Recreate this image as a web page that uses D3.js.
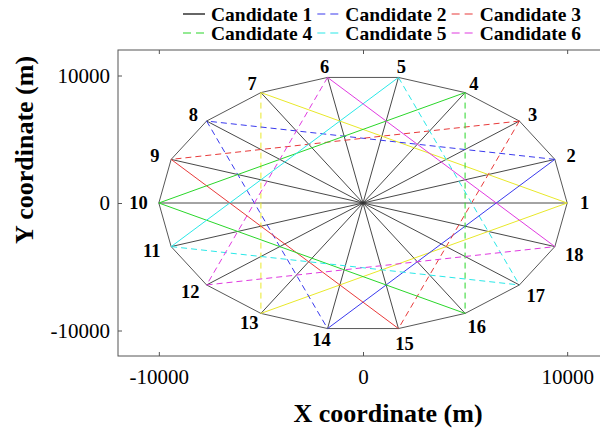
<!DOCTYPE html>
<html>
<head>
  <meta charset="utf-8">
  <title>Candidate node triangles</title>
  <script src="https://cdnjs.cloudflare.com/ajax/libs/d3/7.8.5/d3.min.js"></script>
  <style>
    body { margin: 0; background: #fff; }
    text { font-family: "Liberation Serif", "Times New Roman", serif; }
  </style>
</head>
<body>
  <script>
    // node coordinates (m), nodes 1..18 going counter-clockwise from the +x axis
    const nodeX = [10000, 9397, 7660, 5000, 1736, -1736, -5000, -7660, -9397,
                   -10000, -9397, -7660, -5000, -1736, 1736, 5000, 7660, 9397];
    const nodeY = [0, 3420, 6428, 8660, 9848, 9848, 8660, 6428, 3420,
                   0, -3420, -6428, -8660, -9848, -9848, -8660, -6428, -3420];

    // candidate triangles (node numbers) and which of their edges are dashed
    const triangleNodes = [[1, 7, 13], [2, 8, 14], [3, 9, 15], [4, 10, 16], [5, 11, 17], [6, 12, 18]];
    const triangleColors = ["#e8e82a", "#3a3aee", "#e83a3a", "#2ad62a", "#2ae8e8", "#e03ae0"];
    const dashedEdges = [["7-13"], ["2-8", "8-14"], ["3-9", "3-15"], ["4-16"], ["11-17", "5-17"], ["6-12", "12-18"]];

    const legendLabels = ["Candidate 1", "Candidate 2", "Candidate 3", "Candidate 4", "Candidate 5", "Candidate 6"];
    const legendColors = ["#000000", "#3a3aee", "#e83a3a", "#2ad62a", "#2ae8e8", "#e03ae0"];
    const legendDashed = [false, true, true, true, true, true];

    const xTicks = [-10000, 0, 10000];
    const yTicks = [-10000, 0, 10000];

    const width = 600, height = 434;
    const plotLeft = 118, plotRight = 608, plotTop = 50, plotBottom = 356;

    const svg = d3.select("body")
      .append("svg")
      .attr("width", width)
      .attr("height", height);

    const x = d3.scaleLinear().domain([-12000, 12000]).range([plotLeft, plotRight]);
    const y = d3.scaleLinear().domain([-12000, 12000]).range([plotBottom, plotTop]);

    const nodes = nodeX.map((v, i) => ({ id: i + 1, x: v, y: nodeY[i] }));

    // spokes from the centre
    svg.append("g").selectAll("line")
      .data(nodes)
      .enter()
      .append("line")
      .attr("x1", x(0)).attr("y1", y(0))
      .attr("x2", d => x(d.x)).attr("y2", d => y(d.y))
      .attr("stroke", "#333").attr("stroke-width", 0.9);

    // outer polygon
    svg.append("path")
      .datum(nodes)
      .attr("d", d3.line().x(d => x(d.x)).y(d => y(d.y)).curve(d3.curveLinearClosed))
      .attr("fill", "none")
      .attr("stroke", "#444").attr("stroke-width", 0.9);

    // triangle edges
    const edges = [];
    triangleNodes.forEach((tri, t) => {
      [[tri[0], tri[1]], [tri[1], tri[2]], [tri[0], tri[2]]].forEach(([a, b]) => {
        const dashed = dashedEdges[t].includes(a + "-" + b) || dashedEdges[t].includes(b + "-" + a);
        edges.push({ a: nodes[a - 1], b: nodes[b - 1], color: triangleColors[t], dashed: dashed });
      });
    });

    svg.append("g").selectAll("line")
      .data(edges)
      .enter()
      .append("line")
      .attr("x1", d => x(d.a.x)).attr("y1", d => y(d.a.y))
      .attr("x2", d => x(d.b.x)).attr("y2", d => y(d.b.y))
      .attr("stroke", d => d.color)
      .attr("stroke-width", 1)
      .attr("stroke-dasharray", d => d.dashed ? "6,4" : null);

    // node labels
    svg.append("g").selectAll("text")
      .data(nodes)
      .enter()
      .append("text")
      .attr("x", d => x(d.x * 1.085) + (d.id >= 10 ? Math.sign(d.x) * 3 : 0))
      .attr("y", d => y(d.y * 1.085) + (d.y < 0 && d.x > 0 ? 4 : 0))
      .attr("dy", "0.35em")
      .attr("text-anchor", "middle")
      .attr("font-size", 18.5)
      .attr("font-weight", "bold")
      .text(d => d.id);

    // frame
    svg.append("rect")
      .attr("x", plotLeft).attr("y", plotTop)
      .attr("width", plotRight - plotLeft).attr("height", plotBottom - plotTop)
      .attr("fill", "none").attr("stroke", "#555").attr("stroke-width", 1);

    const fmt = d => String(d);

    const gx = svg.append("g")
      .attr("transform", `translate(0,${plotBottom})`)
      .call(d3.axisBottom(x).tickValues(xTicks).tickFormat(fmt).tickSize(-4).tickSizeOuter(0).tickPadding(13));
    const gxTop = svg.append("g")
      .attr("transform", `translate(0,${plotTop})`)
      .call(d3.axisTop(x).tickValues(xTicks).tickFormat("").tickSize(-4).tickSizeOuter(0));
    const gy = svg.append("g")
      .attr("transform", `translate(${plotLeft},0)`)
      .call(d3.axisLeft(y).tickValues(yTicks).tickFormat(fmt).tickSize(-4).tickSizeOuter(0).tickPadding(8));

    [gx, gxTop, gy].forEach(g => {
      g.select(".domain").remove();
      g.selectAll(".tick line").attr("stroke", "#555");
      g.selectAll("text")
        .attr("font-family", "Liberation Serif")
        .attr("font-size", 21)
        .attr("fill", "#000");
    });

    // axis titles
    svg.append("text")
      .attr("x", 388).attr("y", 422)
      .attr("text-anchor", "middle")
      .attr("font-size", 26).attr("font-weight", "bold")
      .text("X coordinate (m)");

    svg.append("text")
      .attr("transform", "translate(33,150) rotate(-90)")
      .attr("text-anchor", "middle")
      .attr("font-size", 26).attr("font-weight", "bold")
      .text("Y coordinate (m)");

    // legend: two rows of three
    const legend = svg.append("g");
    [0, 1].forEach(row => {
      let cx = 183;
      const ly = 14 + row * 19;
      [0, 1, 2].forEach(col => {
        const i = row * 3 + col;
        legend.append("line")
          .attr("x1", cx).attr("x2", cx + 22)
          .attr("y1", ly).attr("y2", ly)
          .attr("stroke", legendColors[i]).attr("stroke-width", 1.2)
          .attr("stroke-dasharray", legendDashed[i] ? "8,5" : null);
        const t = legend.append("text")
          .attr("x", cx + 28).attr("y", ly)
          .attr("dy", "0.35em")
          .attr("font-size", 19.5).attr("font-weight", "bold")
          .text(legendLabels[i]);
        cx += 28 + t.node().getComputedTextLength() + 5;
      });
    });
  </script>
</body>
</html>
